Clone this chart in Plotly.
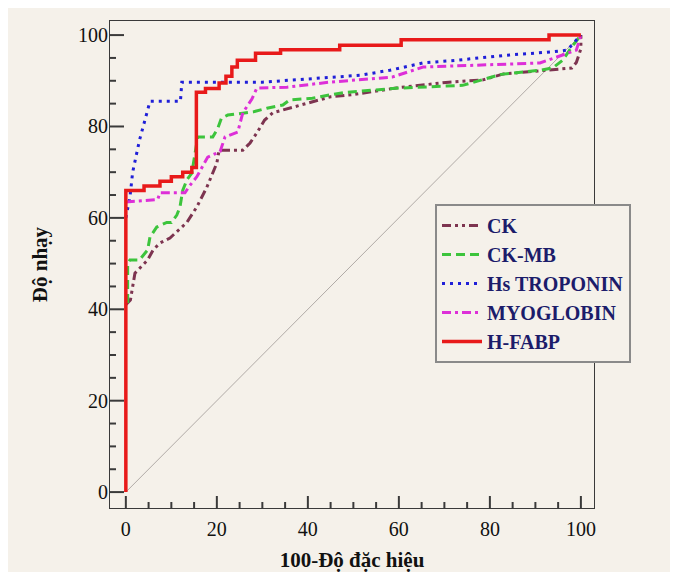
import plotly.graph_objects as go

# ---- data (100 - specificity, sensitivity) ----
ck_x = [0, 1, 2, 3, 4.8, 6, 7.5, 9.7, 11.2, 13.4, 15.6, 17.8, 20, 20.5, 25.7, 27.3, 28.8, 30.5, 32.3, 37.6, 45, 50, 60, 71, 78.5, 83, 93, 98, 99, 100, 100]
ck_y = [41, 42, 47.9, 49, 50.8, 53, 54.5, 55.6, 57, 59, 62.4, 66.7, 72, 74.8, 74.8, 76.4, 78.6, 81.4, 83, 84.5, 86.5, 87, 88.5, 89.7, 90.2, 91.5, 92.3, 92.8, 94, 97, 100]

ckmb_x = [0.4, 0.4, 0.9, 3, 4.8, 5.3, 6.8, 9, 10, 11.2, 11.9, 12.5, 13.4, 14.5, 15.8, 19.1, 20.2, 21, 22.4, 25, 28, 31, 34.5, 36, 41, 44.8, 48.6, 60, 74, 82.5, 91, 93.8, 96, 98, 100]
ckmb_y = [41.4, 50, 50.8, 50.8, 53, 55.8, 58, 59, 59, 60.6, 62.4, 66, 68.3, 69.8, 77.7, 77.7, 79.6, 81.8, 82.5, 82.9, 83.2, 84, 84.7, 85.8, 86.2, 86.9, 87.5, 88.4, 89, 91.4, 92.3, 92.8, 94.5, 97.4, 100]

trop_x = [0, 0.9, 1.5, 2.4, 3, 4.2, 5.3, 12, 12.3, 30, 42.6, 51.4, 58, 65.3, 72.7, 83.7, 93.2, 97, 100]
trop_y = [60, 64.5, 70, 74, 77, 81.4, 85.5, 85.5, 89.7, 89.7, 90.6, 91.2, 92.3, 93.9, 94.5, 95.6, 96.3, 96.7, 100]

myo_x = [0, 7, 7.5, 13, 14, 15.6, 18, 20.7, 21.8, 24.6, 25.7, 27.7, 28.8, 35.4, 44.8, 52, 58.5, 65.3, 91, 99, 100]
myo_y = [63.5, 64, 65.5, 65.5, 67, 69, 73.3, 74.5, 77.7, 78.8, 83, 86, 88.4, 88.6, 89.7, 90.2, 90.8, 93, 93.9, 96.7, 100]

hfabp_x = [0, 0, 4, 7.5, 10, 12.5, 14.5, 15.5, 17.5, 20.5, 22, 23.3, 24.5, 28.5, 34, 47, 60.5, 93, 100]
hfabp_y = [0, 66, 67, 68, 69, 70, 71, 87.5, 88.3, 89.5, 91, 93, 94.5, 96, 96.8, 97.8, 99, 100, 100]

diag = [0, 100]
x_ticks = [0, 20, 40, 60, 80, 100]
y_ticks = [0, 20, 40, 60, 80, 100]
minor_step = 5
x_range = [-3.7, 103.1]
y_range = [-3.7, 103.3]

BG = "#f5f1ea"
SERIF = "Liberation Serif, Times New Roman, serif"
LINE = "#3a3a3a"

# plot-area size in px (used to convert tick lengths to data units)
W_PX, H_PX = 486, 489
px_x = (x_range[1] - x_range[0]) / W_PX
px_y = (y_range[1] - y_range[0]) / H_PX

fig = go.Figure()

# frame of the plot area
fig.add_trace(go.Scatter(
    x=[x_range[0], x_range[1], x_range[1], x_range[0], x_range[0]],
    y=[y_range[0], y_range[0], y_range[1], y_range[1], y_range[0]],
    mode="lines", line=dict(color=LINE, width=2), cliponaxis=False,
    showlegend=False, hoverinfo="skip"))

# inside ticks: major from tick arrays, minor every 5 units
tx, ty = [], []
for v in range(0, 101, minor_step):
    L = (13 if v in x_ticks else 7) * px_y
    tx += [v, v, None]
    ty += [y_range[0], y_range[0] + L, None]
for v in range(0, 101, minor_step):
    L = (15 if v in y_ticks else 7) * px_x
    tx += [x_range[0], x_range[0] + L, None]
    ty += [v, v, None]
fig.add_trace(go.Scatter(x=tx, y=ty, mode="lines", line=dict(color=LINE, width=2),
                         cliponaxis=False, showlegend=False, hoverinfo="skip"))

fig.add_trace(go.Scatter(x=diag, y=diag, mode="lines", line=dict(color="#b0aaa6", width=1),
                         showlegend=False, hoverinfo="skip"))
fig.add_trace(go.Scatter(x=ck_x, y=ck_y, mode="lines", name="<b>CK</b>",
                         line=dict(color="#7d3450", width=3, dash="9px,4px,3px,4px,3px,4px")))
fig.add_trace(go.Scatter(x=ckmb_x, y=ckmb_y, mode="lines", name="<b>CK-MB</b>",
                         line=dict(color="#3cc43c", width=3, dash="9px,5px")))
fig.add_trace(go.Scatter(x=trop_x, y=trop_y, mode="lines", name="<b>Hs TROPONIN</b>",
                         line=dict(color="#1f1fd8", width=3, dash="3px,5px")))
fig.add_trace(go.Scatter(x=myo_x, y=myo_y, mode="lines", name="<b>MYOGLOBIN</b>",
                         line=dict(color="#dd2fd8", width=3, dash="9px,4px,3px,4px")))
fig.add_trace(go.Scatter(x=hfabp_x, y=hfabp_y, mode="lines", name="<b>H-FABP</b>", line_shape="hv",
                         line=dict(color="#e81a1a", width=3.5)))

axis_common = dict(
    showgrid=False, zeroline=False, showline=False, ticks="", automargin=False,
    tickfont=dict(family=SERIF, size=20, color="#111"),
    tickprefix="<b>", ticksuffix="</b>",
)

fig.update_layout(
    width=670, height=564,
    margin=dict(l=101, r=83, t=12, b=63),
    paper_bgcolor=BG, plot_bgcolor=BG,
    showlegend=True,
    xaxis=dict(
        range=x_range, tickmode="array", tickvals=x_ticks, ticklabelstandoff=6,
        title=dict(text="<b>100-Độ đặc hiệu</b>", font=dict(family=SERIF, size=21, color="#111"), standoff=18),
        **axis_common,
    ),
    yaxis=dict(
        range=y_range, tickmode="array", tickvals=y_ticks,
        title=dict(text="<b>Độ nhạy</b>", font=dict(family=SERIF, size=21, color="#111"), standoff=24),
        **axis_common,
    ),
    legend=dict(x=(435 - 109) / (595 - 109), y=(509 - 204) / (509 - 20), xanchor="left", yanchor="top",
                bgcolor=BG, bordercolor="#8a8a8a", borderwidth=2,
                font=dict(family=SERIF, size=20, color="#1c1c6a"),
                itemwidth=40),
)

fig.write_html("out.html")
